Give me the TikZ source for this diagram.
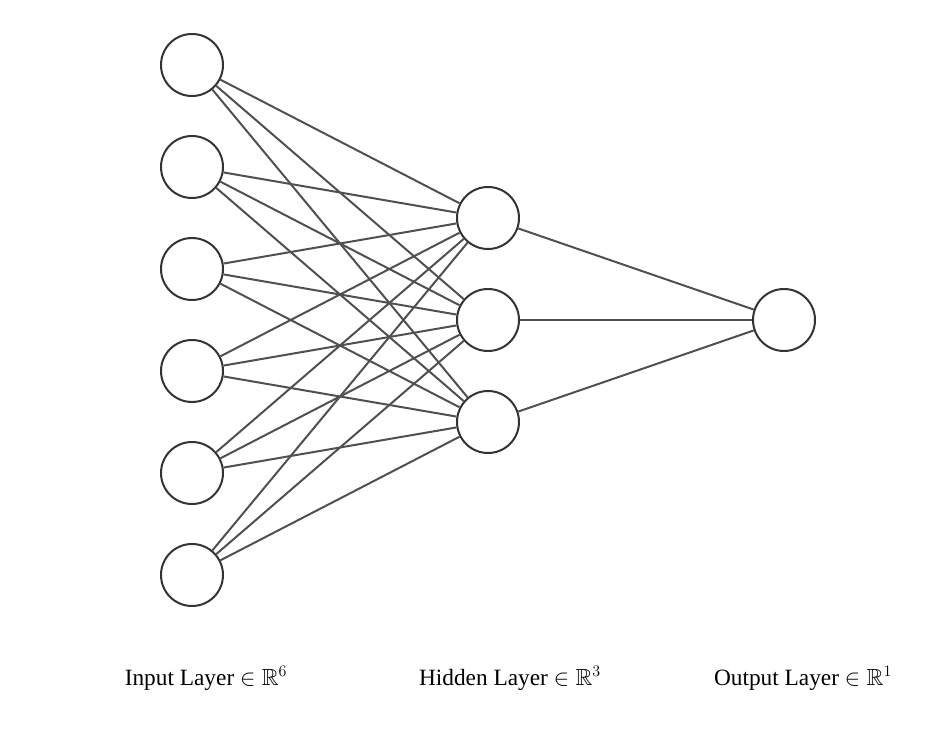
\documentclass[tikz,border=0pt]{standalone}
\usepackage{amsmath, amssymb}
\usepackage{fontspec}
\setmainfont{Liberation Serif}
\usepackage{tikz}
\usetikzlibrary{positioning}
\definecolor{nodegray}{RGB}{51,51,51}
\definecolor{edgegray}{RGB}{80,80,80}
\tikzset{
  neuron/.style={circle, draw=nodegray, line width=1.5pt, fill=white, minimum size=46.5pt, inner sep=0pt},
  wire/.style={draw=edgegray, line width=1.5pt},
  layerlabel/.style={font=\fontsize{17.5}{21}\selectfont, anchor=base}
}

\begin{document}
\begin{tikzpicture}[x=0.75pt, y=-0.75pt]
\useasboundingbox (0,0) rectangle (938,730);
% layers
\foreach \i in {1,...,6} {
  \node[neuron] (in\i) at (192, {65+102*(\i-1)}) {};
}
\foreach \j in {1,...,3} {
  \node[neuron] (hid\j) at (488, {218+102*(\j-1)}) {};
}
\node[neuron] (out) at (784, 320) {};
% connections
\foreach \i in {1,...,6} {
  \foreach \j in {1,...,3} {
    \draw[wire] (in\i) -- (hid\j);
  }
}
\foreach \j in {1,...,3} {
  \draw[wire] (hid\j) -- (out);
}
% labels
\node[layerlabel] (inlabel) at (206, 685) {Input Layer $\in \mathbb{R}^6$};
\node[layerlabel] (hidlabel) at (510, 685) {Hidden Layer $\in \mathbb{R}^3$};
\node[layerlabel] (outlabel) at (803, 685) {Output Layer $\in \mathbb{R}^1$};
\end{tikzpicture}
\end{document}
